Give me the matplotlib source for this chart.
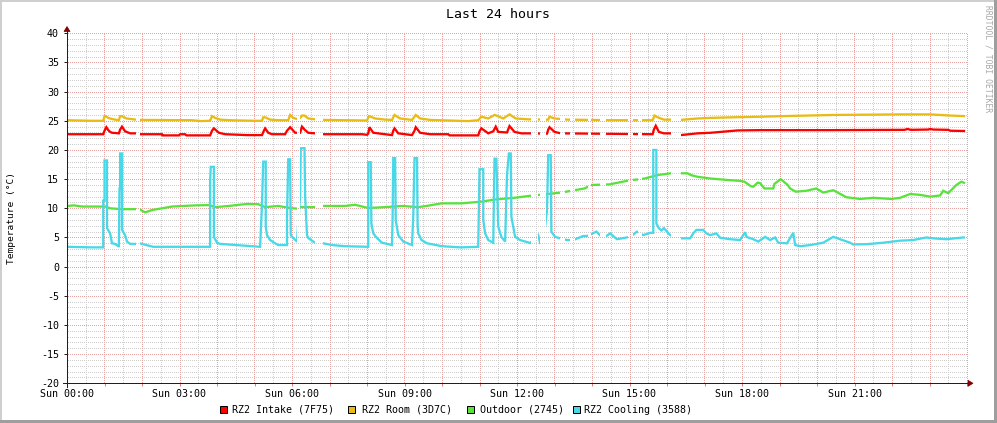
import numpy as np
import matplotlib
matplotlib.use("Agg")
import matplotlib.pyplot as plt
from matplotlib.path import Path
from matplotlib.patches import Rectangle, Polygon
from matplotlib.lines import Line2D

# ---------------- data (time in minutes since Sun 00:00, values in deg C) -------------
series_names = ["RZ2 Intake (7F75)", "RZ2 Room (3D7C)", "Outdoor (2745)", "RZ2 Cooling (3588)"]
series_colors = ["#FF0000", "#E8BC14", "#5AE23C", "#48D8E8"]

t_intake = [0, 58, 60, 63, 66, 69, 72, 83, 85, 88, 93, 101, 110, 116, 152, 153, 179, 181, 189, 191,
            229, 232, 235, 243, 253, 288, 312, 315, 317, 322, 328, 349, 352, 357, 365, 368, 373, 376,
            380, 386, 397, 410, 472, 480, 482, 484, 490, 509, 520, 522, 524, 530, 552, 556, 558, 565,
            581, 610, 612, 658, 660, 663, 674, 682, 686, 690, 704, 708, 716, 727, 743, 768, 770, 772,
            780, 790, 937, 939, 942, 947, 955, 966, 982, 1009, 1030, 1057, 1073, 1110, 1163, 1226,
            1340, 1345, 1350, 1378, 1381, 1386, 1410, 1413, 1437]
v_intake = [22.7, 22.7, 23.3, 23.9, 23.4, 23.1, 22.95, 22.85, 23.5, 24.0, 23.2, 22.85, 22.85, 22.7,
            22.7, 22.5, 22.5, 22.7, 22.7, 22.5, 22.5, 23.3, 23.7, 22.95, 22.7, 22.55, 22.55, 23.3,
            23.7, 22.95, 22.7, 22.7, 23.3, 23.9, 22.95, 22.95, 22.95, 24.0, 23.5, 22.95, 22.85,
            22.7, 22.7, 22.6, 22.8, 23.9, 22.95, 22.7, 22.55, 23.3, 23.7, 22.85, 22.55, 23.3, 23.9,
            22.95, 22.7, 22.7, 22.5, 22.5, 23.2, 23.7, 22.85, 23.2, 24.0, 23.1, 23.0, 24.1, 23.1,
            22.85, 22.85, 22.8, 23.5, 23.9, 23.1, 22.85, 22.7, 23.5, 24.15, 23.1, 22.85, 22.85,
            22.55, 22.85, 22.95, 23.2, 23.35, 23.4, 23.4, 23.4, 23.45, 23.6, 23.45, 23.5, 23.6,
            23.5, 23.45, 23.3, 23.25]

t_room = [0, 40, 58, 60, 62, 66, 72, 80, 83, 85, 88, 95, 110, 116, 200, 215, 227, 229, 232, 237,
          245, 260, 300, 312, 314, 317, 325, 338, 354, 357, 362, 368, 373, 376, 380, 386, 397, 410,
          480, 483, 486, 493, 509, 520, 524, 533, 552, 558, 565, 581, 642, 658, 663, 674, 684, 687,
          698, 708, 718, 738, 770, 772, 780, 800, 870, 937, 940, 945, 955, 966, 982, 1009, 1030,
          1066, 1110, 1144, 1226, 1333, 1381, 1413, 1437]
v_room = [25.1, 25.0, 25.0, 25.8, 25.8, 25.5, 25.3, 25.15, 25.1, 25.8, 25.8, 25.4, 25.2, 25.15,
          25.1, 24.95, 25.0, 25.0, 25.8, 25.5, 25.2, 25.1, 25.0, 25.0, 25.6, 25.6, 25.2, 25.1, 25.1,
          26.0, 25.5, 25.3, 25.5, 25.9, 25.9, 25.4, 25.25, 25.15, 25.05, 25.8, 25.7, 25.4, 25.2,
          25.15, 26.0, 25.4, 25.15, 26.0, 25.4, 25.15, 24.95, 25.1, 25.7, 25.4, 26.0, 25.9, 25.4,
          26.1, 25.4, 25.25, 25.2, 25.7, 25.4, 25.2, 25.1, 25.1, 25.9, 25.6, 25.2, 25.2, 25.15,
          25.4, 25.5, 25.6, 25.7, 25.8, 26.0, 26.1, 26.1, 25.9, 25.8]

t_outdoor = [0, 11, 24, 61, 69, 88, 110, 116, 125, 136, 168, 205, 227, 237, 259, 288, 306, 317, 338,
             360, 368, 373, 397, 410, 445, 461, 482, 509, 536, 562, 578, 599, 630, 663, 684, 716,
             738, 764, 791, 812, 828, 839, 868, 897, 924, 945, 966, 982, 993, 998, 1009, 1030, 1057,
             1077, 1084, 1094, 1098, 1105, 1109, 1116, 1130, 1132, 1142, 1153, 1157, 1166, 1183,
             1199, 1210, 1226, 1247, 1269, 1290, 1319, 1333, 1349, 1365, 1381, 1397, 1402, 1410,
             1423, 1431, 1437]
v_outdoor = [10.4, 10.5, 10.3, 10.3, 10.0, 9.85, 9.85, 9.85, 9.3, 9.7, 10.3, 10.5, 10.55, 10.2, 10.4,
             10.75, 10.7, 10.2, 10.4, 10.0, 9.95, 10.2, 10.2, 10.4, 10.4, 10.6, 10.05, 10.2, 10.4,
             10.2, 10.45, 10.85, 10.85, 11.13, 11.5, 11.8, 12.1, 12.4, 12.7, 13.1, 13.4, 14.0, 14.1,
             14.73, 15.1, 15.7, 16.0, 16.0, 16.0, 15.7, 15.4, 15.1, 14.85, 14.7, 14.56, 13.8, 13.7,
             14.4, 14.3, 13.4, 13.4, 14.2, 15.0, 14.0, 13.4, 12.85, 13.0, 13.4, 12.7, 13.1, 11.9,
             11.6, 11.8, 11.6, 11.8, 12.45, 12.3, 12.0, 12.2, 13.0, 12.6, 14.0, 14.56, 14.3]

t_cooling = [0, 40, 58, 58, 60, 60, 64, 64, 69, 72, 77, 82, 83, 84, 85, 85, 88, 88, 93, 96, 101, 110,
             116, 138, 229, 229, 230, 235, 235, 240, 245, 309, 312, 314, 318, 318, 320, 325, 333, 338,
             352, 352, 354, 357, 358, 362, 368, 373, 374, 380, 381, 384, 386, 394, 397, 410, 424, 445,
             482, 482, 486, 487, 490, 496, 504, 520, 521, 522, 525, 526, 530, 538, 552, 554, 556, 560,
             561, 562, 567, 576, 600, 630, 658, 660, 666, 666, 669, 674, 682, 684, 687, 690, 695, 701,
             704, 707, 710, 711, 717, 725, 741, 754, 757, 762, 768, 770, 774, 775, 781, 789, 800, 810,
             826, 832, 847, 858, 869, 880, 901, 912, 922, 933, 938, 938, 943, 943, 947, 951, 955, 965,
             982, 997, 1002, 1007, 1018, 1023, 1029, 1039, 1045, 1061, 1077, 1085, 1087, 1098, 1106,
             1117, 1125, 1133, 1138, 1152, 1162, 1165, 1173, 1189, 1210, 1226, 1237, 1253, 1258, 1279,
             1306, 1333, 1354, 1375, 1386, 1407, 1434, 1437]
v_cooling = [3.4, 3.3, 3.3, 11.3, 11.3, 18.2, 18.2, 6.6, 5.7, 4.0, 3.9, 3.5, 3.5, 13.4, 13.4, 19.4,
             19.4, 6.3, 5.4, 4.3, 3.9, 3.9, 4.0, 3.4, 3.4, 14.6, 17.1, 17.1, 5.1, 4.1, 3.9, 3.4, 10.8,
             18.0, 18.0, 6.85, 5.4, 4.56, 4.0, 3.7, 3.7, 8.55, 18.4, 18.4, 5.4, 4.9, 4.3, 12.3, 20.3,
             20.3, 12.0, 5.4, 4.9, 4.3, 4.1, 4.0, 3.7, 3.5, 3.4, 17.9, 17.9, 7.4, 5.7, 4.9, 4.1, 3.7,
             8.55, 18.6, 18.6, 8.0, 5.4, 4.3, 3.7, 8.55, 18.6, 18.6, 7.0, 5.7, 4.6, 4.0, 3.5, 3.3, 3.4,
             16.7, 16.7, 8.0, 5.7, 4.56, 4.1, 18.5, 18.5, 6.85, 5.1, 4.3, 15.7, 19.4, 19.4, 8.55, 5.1,
             4.56, 4.05, 5.4, 4.05, 4.05, 9.7, 19.1, 19.1, 6.0, 5.1, 4.85, 4.56, 4.56, 5.25, 5.25, 6.0,
             4.85, 5.7, 4.7, 5.1, 6.0, 5.4, 5.8, 5.8, 20.0, 20.0, 7.4, 6.6, 6.2, 6.6, 5.4, 4.85, 4.85,
             5.7, 6.3, 6.3, 5.7, 5.4, 5.7, 4.95, 4.7, 4.56, 5.9, 5.1, 4.7, 4.3, 5.1, 4.56, 5.0, 4.1,
             4.0, 5.8, 3.7, 3.5, 3.7, 4.1, 5.1, 4.7, 4.1, 3.8, 3.85, 4.1, 4.45, 4.56, 5.0, 4.85, 4.7,
             5.0, 5.0]

# periods without data (minutes), common to all sources
gaps = [(110, 116), (368, 373), (397, 410), (742, 753), (757, 767), (789, 797), (805, 813),
        (833, 838), (853, 863), (897, 905), (913, 920), (966, 982)]

x_tick_labels = ["Sun 00:00", "Sun 03:00", "Sun 06:00", "Sun 09:00", "Sun 12:00",
                 "Sun 15:00", "Sun 18:00", "Sun 21:00"]
title = "Last 24 hours"
ylabel = "Temperature (°C)"

# ---------------- figure ----------------
W, H = 997, 423
fig = plt.figure(figsize=(W / 100, H / 100), dpi=100)
fig.patch.set_facecolor("white")
MONO = "DejaVu Sans Mono"

def px(x, y):
    """image pixel (y down) -> display coords"""
    return (x, H - y)

left, right, top, bottom = 67, 967, 33.3, 383.3

# ---- pixel-exact dotted grid (RRDtool style) drawn as a figure image ----
MAJ = np.array([0.91, 0.64, 0.64, 1.0])
MIN = np.array([0.81, 0.81, 0.81, 1.0])
grid_img = np.zeros((H, W, 4))
y_of = lambda v: int(round(top + (40 - v) * (bottom - top) / 60))
x_of = lambda hrs: int(round(left + hrs * (right - left) / 24))
xs = np.arange(left, right + 1)
ys = np.arange(int(round(top)), int(round(bottom)) + 1)
for v in range(-20, 41):
    if v % 5:
        grid_img[y_of(v), xs[xs % 2 == 0]] = MIN
for k in range(0, 49):
    if k % 2:
        grid_img[ys[ys % 2 == 0], x_of(k / 2)] = MIN
for v in range(-20, 41, 5):
    grid_img[y_of(v), xs[xs % 2 == 0]] = MAJ
for k in range(0, 49, 2):
    grid_img[ys[ys % 2 == 0], x_of(k / 2)] = MAJ
fig.figimage(grid_img, xo=0, yo=0, origin="upper", zorder=-2)

# frame shading
for (x0, y0, w, h, c) in [(0, 0, 2, H, "#CFCFCF"), (0, 0, W, 2, "#CFCFCF"),
                          (W - 3, 0, 3, H, "#9E9E9E"), (0, H - 3, W, 3, "#9E9E9E")]:
    fig.add_artist(Rectangle((x0, H - y0 - h), w, h, transform=None, fc=c, ec="none", zorder=-1))

ax = fig.add_axes([left / W, (H - bottom) / H, (right - left) / W, (bottom - top) / H])
ax.patch.set_visible(False)
ax.set_zorder(1)
ax.set_xlim(0, 24)
ax.set_ylim(-20, 40)
for s in ax.spines.values():
    s.set_visible(False)

# ticks & labels
ax.set_yticks(range(-20, 41, 5))
ax.set_yticklabels([str(v) for v in range(-20, 41, 5)])
ax.set_xticks(range(0, 24, 3))
ax.set_xticklabels(x_tick_labels)
ax.set_xticks(range(0, 25), minor=True)
ax.set_yticks([], minor=True)
ax.tick_params(axis="y", length=2, width=0.72, color="#202020", pad=3.8, labelsize=7.2)
ax.tick_params(axis="x", which="major", length=2, width=0.72, color="#E08080", pad=2.2, labelsize=7.2)
ax.tick_params(axis="x", which="minor", length=2, width=0.72, color="#E08080")
for lab in ax.get_xticklabels() + ax.get_yticklabels():
    lab.set_family(MONO)

# visible (non-gap) windows as clip path
edges = [0] + [g for ab in gaps for g in ab] + [24 * 60]
verts, codes = [], []
for a, b in zip(edges[0::2], edges[1::2]):
    a, b = a / 60, b / 60
    verts += [(a, -100), (b, -100), (b, 100), (a, 100), (a, -100)]
    codes += [Path.MOVETO, Path.LINETO, Path.LINETO, Path.LINETO, Path.CLOSEPOLY]
clip = Path(verts, codes)

for t, v, c in [(t_intake, v_intake, series_colors[0]), (t_room, v_room, series_colors[1]),
                (t_outdoor, v_outdoor, series_colors[2]), (t_cooling, v_cooling, series_colors[3])]:
    ln, = ax.plot(np.array(t) / 60.0, v, color=c, linewidth=1.65, solid_joinstyle="miter",
                  solid_capstyle="butt", zorder=3)
    ln.set_clip_path(clip, ax.transData)

# axes lines and arrows (pixel coordinates)
axis_c = "#202020"
fig.add_artist(Line2D([63, 968], [H - bottom, H - bottom], transform=None, color=axis_c, lw=0.72, zorder=5))
fig.add_artist(Line2D([left, left], [H - 387, H - 30], transform=None, color=axis_c, lw=0.72, zorder=5))
fig.add_artist(Polygon([px(left, 26.5), px(left - 3, 31.5), px(left + 3, 31.5)], closed=True,
                       transform=None, fc="#7F0000", ec="#7F0000", lw=0.5, zorder=6))
fig.add_artist(Polygon([px(973, bottom), px(968, bottom - 3), px(968, bottom + 3)], closed=True,
                       transform=None, fc="#7F0000", ec="#7F0000", lw=0.5, zorder=6))

# texts
fig.text(498 / W, 1 - 14 / H, title, ha="center", va="center", family=MONO, fontsize=9.5)
fig.text(11 / W, 1 - 218 / H, ylabel, rotation=90, ha="center", va="center", family=MONO, fontsize=6.8)
fig.text(988 / W, 1 - 5 / H, "RRDTOOL / TOBI OETIKER", rotation=270, ha="center", va="top",
         family=MONO, fontsize=5.8, color="#A8A8A8")

# legend
sq_x = [219.5, 348, 466.5, 572.5]
tx_x = [232, 362, 480, 584]
for name, c, sx, tx in zip(series_names, series_colors, sq_x, tx_x):
    fig.add_artist(Rectangle((sx, H - 413), 7, 7, transform=None, fc=c, ec="black", lw=0.72, zorder=5))
    fig.text(tx / W, 1 - 409.5 / H, name, ha="left", va="center", family=MONO, fontsize=7.2)

fig.savefig("out.png", dpi=100)
